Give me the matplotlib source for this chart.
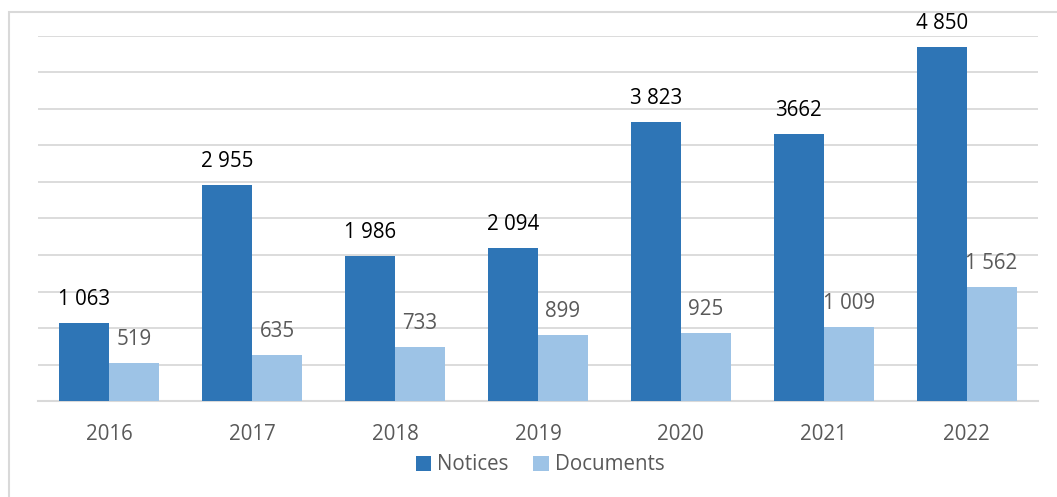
import matplotlib
matplotlib.use("Agg")
import matplotlib.pyplot as plt
from matplotlib.patches import Rectangle
import numpy as np

years = ["2016", "2017", "2018", "2019", "2020", "2021", "2022"]
notices = [1063, 2955, 1986, 2094, 3823, 3662, 4850]
documents = [519, 635, 733, 899, 925, 1009, 1562]
notice_labels = ["1 063", "2 955", "1 986", "2 094", "3 823", "3662", "4 850"]
document_labels = ["519", "635", "733", "899", "925", "1 009", "1 562"]

W, H = 1057, 497
fig = plt.figure(figsize=(W / 100, H / 100), dpi=100)
plt.rcParams['font.family'] = ['Open Sans', 'DejaVu Sans']
FS = 14.8

# outer frame
fig.patches.append(Rectangle((9 / W, -0.1), 1.2, (H - 12) / H + 0.1, transform=fig.transFigure,
                             fill=False, edgecolor='#d9d9d9', linewidth=1.5, zorder=0))

ax = fig.add_axes([38 / W, (H - 401) / H, 1000 / W, 365 / H])
x = np.arange(len(years))
bw = 0.35
c1, c2 = '#2e75b6', '#9dc3e6'
b1 = ax.bar(x - bw / 2, notices, bw, color=c1, label='Notices', zorder=3)
b2 = ax.bar(x + bw / 2, documents, bw, color=c2, label='Documents', zorder=3)

ax.set_xlim(-0.5, len(years) - 0.5)
ax.set_ylim(0, 5000)
ax.set_yticks(np.arange(0, 5001, 500))
ax.yaxis.grid(True, color='#d9d9d9', linewidth=1.3, zorder=0)
ax.tick_params(axis='y', left=False, labelleft=False)
ax.tick_params(axis='x', bottom=False, labelsize=FS, labelcolor='#595959', pad=13)
ax.set_xticks(x)
ax.set_xticklabels(years)
for s in ['top', 'right', 'left']:
    ax.spines[s].set_visible(False)
ax.spines['bottom'].set_color('#d9d9d9')
ax.spines['bottom'].set_linewidth(1.5)

for rect, lab in zip(b1, notice_labels):
    ax.annotate(lab, (rect.get_x() + rect.get_width() / 2, rect.get_height()),
                xytext=(0, 17), textcoords='offset points', ha='center', va='center',
                fontsize=FS, color='black')
for rect, lab in zip(b2, document_labels):
    ax.annotate(lab, (rect.get_x() + rect.get_width() / 2, rect.get_height()),
                xytext=(0, 17), textcoords='offset points', ha='center', va='center',
                fontsize=FS, color='#595959')

leg = fig.legend(loc='center', bbox_to_anchor=(540 / W, (H - 465) / H), ncol=2, frameon=False,
                 fontsize=FS, handlelength=0.75, handleheight=0.75, handletextpad=0.3,
                 columnspacing=1.2)
for t in leg.get_texts():
    t.set_color('#595959')

fig.savefig('out.png', dpi=100)
